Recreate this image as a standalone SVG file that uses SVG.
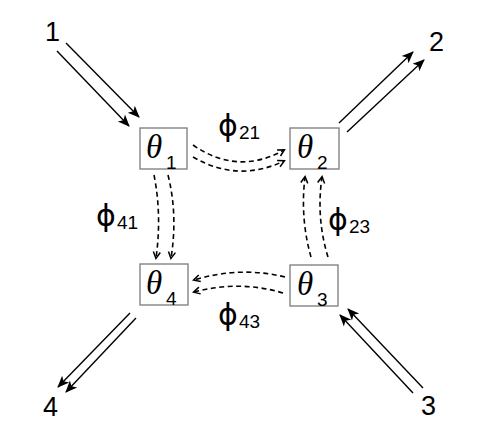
<svg xmlns="http://www.w3.org/2000/svg" width="485" height="432" viewBox="0 0 485 432">
<style>
.box{fill:#fff;stroke:#7a7a7a;stroke-width:1.3}
.th{font-family:"Liberation Serif",serif;font-style:italic;font-size:33px;fill:#000}
.sub{font-family:"Liberation Sans",sans-serif;font-size:19px;fill:#000}
.ph{font-family:"DejaVu Sans","Liberation Sans",sans-serif;font-size:30px;fill:#000}
.num{font-family:"Liberation Sans",sans-serif;font-size:27px;fill:#000}
.sol{fill:none;stroke:#000;stroke-width:1.4;marker-end:url(#ah)}
.dsh{fill:none;stroke:#000;stroke-width:1.6;stroke-dasharray:5,3.5;marker-end:url(#dh)}
</style>
<defs>
<marker id="ah" markerUnits="userSpaceOnUse" markerWidth="14" markerHeight="12" refX="11" refY="5" orient="auto" viewBox="0 0 14 10">
<path d="M0,0 L12,5 L0,10 L3,5 Z" fill="#000"/>
</marker>
<marker id="dh" markerUnits="userSpaceOnUse" markerWidth="10" markerHeight="10" refX="7" refY="4" orient="auto" viewBox="0 0 10 8">
<path d="M1,0.5 L7.5,4 L1,7.5" fill="none" stroke="#000" stroke-width="1.5"/>
</marker>
</defs>
<g id="connectors">
<line class="sol" x1="66" y1="43" x2="139" y2="117"/>
<line class="sol" x1="57" y1="51" x2="129" y2="126"/>
<line class="sol" x1="339" y1="123" x2="413" y2="52"/>
<line class="sol" x1="347" y1="132" x2="424" y2="60"/>
<line class="sol" x1="413" y1="393" x2="340" y2="315"/>
<line class="sol" x1="423" y1="388" x2="348" y2="309"/>
<line class="sol" x1="130" y1="313" x2="58" y2="387"/>
<line class="sol" x1="136" y1="318" x2="66" y2="392"/>
<path class="dsh" d="M193,145 Q238,176 284,150"/>
<path class="dsh" d="M193,157 Q238,183 284,161"/>
<path class="dsh" d="M154,175 Q162,215 156,258"/>
<path class="dsh" d="M168,175 Q178,215 171,258"/>
<path class="dsh" d="M311,257 Q300,218 305,177"/>
<path class="dsh" d="M328,257 Q316,218 322,177"/>
<path class="dsh" d="M285,277 Q240,266 194,280"/>
<path class="dsh" d="M283,293 Q240,280 194,292"/>
</g>
<g id="n1"><rect class="box" x="140" y="128" width="47" height="41"/><text class="th" x="146" y="158">θ</text><text class="sub" x="166" y="169">1</text></g>
<g id="n2"><rect class="box" x="290" y="128" width="49" height="41"/><text class="th" x="297" y="158">θ</text><text class="sub" x="317" y="169">2</text></g>
<g id="n3"><rect class="box" x="290" y="265" width="48" height="41"/><text class="th" x="297" y="295">θ</text><text class="sub" x="317" y="306">3</text></g>
<g id="n4"><rect class="box" x="140" y="264" width="48" height="41"/><text class="th" x="146" y="294">θ</text><text class="sub" x="166" y="305">4</text></g>
<g id="labels">
<text class="num" x="45" y="41">1</text>
<text class="num" x="429" y="51">2</text>
<text class="num" x="421" y="415">3</text>
<text class="num" x="43" y="416">4</text>
<text class="ph" x="218" y="136">ϕ</text><text class="sub" x="239" y="139">21</text>
<text class="ph" x="96" y="226">ϕ</text><text class="sub" x="117" y="229">41</text>
<text class="ph" x="328" y="230">ϕ</text><text class="sub" x="349" y="233">23</text>
<text class="ph" x="218" y="325">ϕ</text><text class="sub" x="239" y="328">43</text>
</g>
</svg>
